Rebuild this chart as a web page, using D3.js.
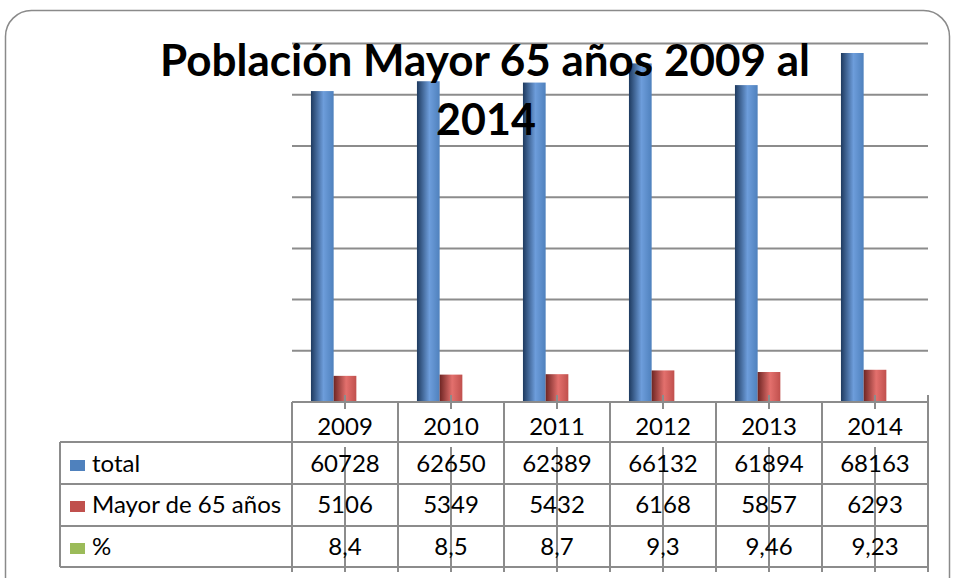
<!DOCTYPE html>
<html lang="es">
<head>
<meta charset="utf-8">
<title>Población Mayor 65 años</title>
<script src="https://cdnjs.cloudflare.com/ajax/libs/d3/7.8.5/d3.min.js"></script>
<style>
    html, body { margin: 0; padding: 0; background: #fff; }
    svg { display: block; }
    .grid line { stroke: #8c8c8c; stroke-width: 2; }
    .tbl line { stroke: #8c8c8c; stroke-width: 2; }
    .cell { font: 24px Lato, "Open Sans", sans-serif; fill: #000; text-anchor: middle; }
    .rowlabel { font: 24px Lato, "Open Sans", sans-serif; fill: #000; }
    .title { font: bold 43px Lato, "Open Sans", sans-serif; fill: #000; text-anchor: middle; }
</style>
</head>
<body>
<svg id="chart" width="953" height="578"></svg>
<script>
    // data
    const years = ["2009", "2010", "2011", "2012", "2013", "2014"];
    const seriesNames = ["total", "Mayor de 65 años", "%"];
    const total = [60728, 62650, 62389, 66132, 61894, 68163];
    const mayor65 = [5106, 5349, 5432, 6168, 5857, 6293];
    const pct = [8.4, 8.5, 8.7, 9.3, 9.46, 9.23];
    const yTicks = [0, 10000, 20000, 30000, 40000, 50000, 60000, 70000];

    const seriesValues = [total, mayor65, pct];
    const colors = [
        {dark: "#1e3a5f", light: "#6d9ddb", mid: "#4f81bd"},
        {dark: "#6e2523", light: "#e3706d", mid: "#c0504d"},
        {dark: "#5b7530", light: "#bcd98a", mid: "#9bbb59"}
    ];

    const svg = d3.select("#chart");

    // plot area
    const plotLeft = 292, plotRight = 928, base = 402, plotTop = 43.6;
    const rowTops = [402, 442, 484, 526, 567];

    const x = d3.scaleBand().domain(years).range([plotLeft, plotRight]).padding(0);
    const xs = d3.scaleBand().domain(d3.range(3)).range([0, x.bandwidth()])
        .paddingInner(0).paddingOuter(0.835);
    const y = d3.scaleLinear().domain([0, 70000]).range([base, plotTop]);

    // gradients for cylinder-ish bars
    const defs = svg.append("defs");
    colors.forEach((c, i) => {
        const g = defs.append("linearGradient").attr("id", "grad" + i)
            .attr("x1", "0%").attr("x2", "100%").attr("y1", "0%").attr("y2", "0%");
        g.append("stop").attr("offset", "0%").attr("stop-color", c.dark);
        g.append("stop").attr("offset", "55%").attr("stop-color", c.light);
        g.append("stop").attr("offset", "100%").attr("stop-color", c.mid);
    });

    // outer frame
    svg.append("rect")
        .attr("x", 5.5).attr("y", 10.5)
        .attr("width", 944).attr("height", 620)
        .attr("rx", 26).attr("ry", 26)
        .attr("fill", "#fff").attr("stroke", "#8a8a8a").attr("stroke-width", 1.5);

    // gridlines
    svg.append("g").attr("class", "grid")
        .selectAll("line")
        .data(yTicks.slice(1))
        .enter().append("line")
        .attr("x1", plotLeft).attr("x2", plotRight)
        .attr("y1", d => y(d)).attr("y2", d => y(d));

    // bars
    seriesValues.forEach((vals, si) => {
        svg.append("g").selectAll("rect")
            .data(vals)
            .enter().append("rect")
            .attr("x", (d, i) => x(years[i]) + xs(si))
            .attr("width", xs.bandwidth())
            .attr("y", d => y(d))
            .attr("height", d => base - y(d))
            .attr("fill", "url(#grad" + si + ")");
    });

    // data table
    const tbl = svg.append("g").attr("class", "tbl");
    // horizontal rules
    tbl.append("line").attr("x1", plotLeft).attr("x2", plotRight)
        .attr("y1", rowTops[0]).attr("y2", rowTops[0]);
    rowTops.slice(1).forEach(r => {
        tbl.append("line").attr("x1", 60).attr("x2", plotRight).attr("y1", r).attr("y2", r);
    });
    // left border of label column
    tbl.append("line").attr("x1", 60).attr("x2", 60)
        .attr("y1", rowTops[1]).attr("y2", rowTops[4]);
    // column lines
    const colEdges = years.map(d => x(d)).concat([plotRight]);
    colEdges.forEach((cx, i) => {
        tbl.append("line").attr("x1", cx).attr("x2", cx)
            .attr("y1", i === colEdges.length - 1 ? 395 : rowTops[0]).attr("y2", 572);
    });
    // category tick marks showing through the table
    years.forEach(yr => {
        const cx = x(yr) + x.bandwidth() / 2;
        tbl.append("line").attr("x1", cx).attr("x2", cx).attr("y1", 395).attr("y2", 409)
            .attr("stroke-width", 1.5);
        tbl.append("line").attr("x1", cx).attr("x2", cx).attr("y1", 447).attr("y2", 572)
            .attr("stroke-width", 1.5).attr("stroke", "#a0a0a0");
    });

    // header years
    svg.append("g").selectAll("text")
        .data(years)
        .enter().append("text")
        .attr("class", "cell")
        .attr("x", d => x(d) + x.bandwidth() / 2)
        .attr("y", 435)
        .text(d => d);

    const fmt = v => String(v).replace(".", ",");
    const baselines = [472, 513, 555];
    seriesValues.forEach((vals, si) => {
        svg.append("g").selectAll("text")
            .data(vals)
            .enter().append("text")
            .attr("class", "cell")
            .attr("x", (d, i) => x(years[i]) + x.bandwidth() / 2)
            .attr("y", baselines[si])
            .text(d => fmt(d));

        // legend key + label
        svg.append("rect")
            .attr("x", 70).attr("y", baselines[si] - 12)
            .attr("width", 15).attr("height", 11)
            .attr("fill", colors[si].mid);
        svg.append("text")
            .attr("class", "rowlabel")
            .attr("x", 92).attr("y", baselines[si])
            .text(seriesNames[si]);
    });

    // title over the bars
    const titleLines = ["Población Mayor 65 años 2009 al", "2014"];
    svg.append("text").attr("class", "title")
        .attr("x", 485).attr("y", 76)
        .attr("textLength", 650).attr("lengthAdjust", "spacingAndGlyphs")
        .text(titleLines[0]);
    svg.append("text").attr("class", "title")
        .attr("x", 486).attr("y", 135)
        .text(titleLines[1]);
</script>
</body>
</html>
